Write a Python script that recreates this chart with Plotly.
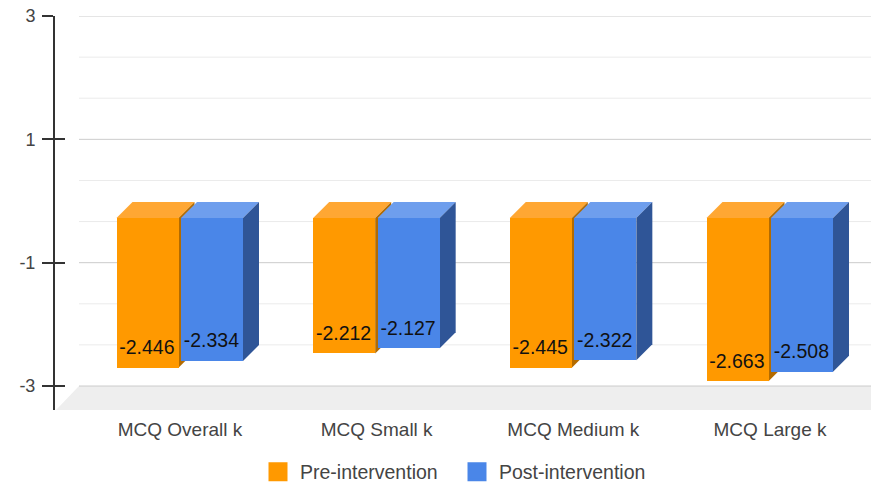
import plotly.graph_objects as go

categories = ["MCQ Overall k", "MCQ Small k", "MCQ Medium k", "MCQ Large k"]
pre_values = [-2.446, -2.212, -2.445, -2.663]
post_values = [-2.334, -2.127, -2.322, -2.508]
major_ticks = [3, 1, -1, -3]
minor_grid = [2.333, 1.667, 0.333, -0.333, -1.667, -2.333]
ORANGE, ORANGE_TOP, ORANGE_SIDE = "#ff9900", "#ffa733", "#b36b00"
BLUE, BLUE_TOP, BLUE_SIDE = "#4a86e8", "#6e9eed", "#2f5597"

W, H = 871, 482
L, R, T, B = 55, 871, 16, 410
PX_PER_CAT = 196.67
PX_PER_UNIT = 61.67
x0_px = 180
xr = [(L - x0_px) / PX_PER_CAT, (R - x0_px) / PX_PER_CAT]
yr = [3 - (B - T) / PX_PER_UNIT, 3]
DX = 16 / PX_PER_CAT
DY = 16 / PX_PER_UNIT
TOP = -1 / PX_PER_UNIT
BW = 62 / PX_PER_CAT
OFF_PRE = -32.5 / PX_PER_CAT
OFF_POST = 32 / PX_PER_CAT
xs = list(range(len(categories)))

shapes = []
def poly(pts, color, layer="below"):
    path = "M" + " L".join(f"{x},{y}" for x, y in pts) + " Z"
    shapes.append(dict(type="path", path=path, fillcolor=color, line=dict(width=0), layer=layer, xref="x", yref="y"))

# floor
fx = xr[0] + 1 / PX_PER_CAT
poly([(fx, yr[0]), (xr[0] + 24 / PX_PER_CAT, -3), (xr[1], -3), (xr[1], yr[0])], "#eeeeee")
# grid
gx = xr[0] + 24 / PX_PER_CAT
for v in minor_grid:
    shapes.append(dict(type="line", x0=gx, x1=xr[1], y0=v, y1=v, line=dict(color="#ebebeb", width=1), layer="below"))
for v in major_ticks:
    shapes.append(dict(type="line", x0=gx, x1=xr[1], y0=v, y1=v, line=dict(color="#cccccc", width=1), layer="below"))

def faces(vals, off, top, side):
    for i, v in enumerate(vals):
        xl = i + off - BW / 2
        xh = i + off + BW / 2
        poly([(xl, TOP - DY), (xl + DX, TOP), (xh + DX, TOP), (xh, TOP - DY)], top)
        poly([(xh, TOP - DY), (xh + DX, TOP), (xh + DX, v), (xh, v - DY)], side)

faces(pre_values, OFF_PRE, ORANGE_TOP, ORANGE_SIDE)
faces(post_values, OFF_POST, BLUE_TOP, BLUE_SIDE)

fig = go.Figure()
for vals, off, col, nm in [(pre_values, OFF_PRE, ORANGE, "Pre-intervention"), (post_values, OFF_POST, BLUE, "Post-intervention")]:
    fig.add_trace(go.Bar(x=[i + off for i in xs], y=[v - TOP for v in vals], base=[TOP - DY] * len(vals), width=BW,
                         marker=dict(color=col, line=dict(width=0)), name=nm, showlegend=False))
    fig.add_trace(go.Scatter(x=[None], y=[None], mode="markers", name=nm,
                             marker=dict(symbol="square", size=16, color=col, line=dict(color=col, width=3))))
    fig.add_trace(go.Scatter(x=[i + off - 0.003 for i in xs], y=[v + 0.04 for v in vals], mode="text",
                             text=[f"{v:.3f}" for v in vals], textposition="middle center",
                             textfont=dict(size=19.5, color="#111111", family="Liberation Sans"),
                             showlegend=False, hoverinfo="skip"))
fig.add_trace(go.Scatter(x=[None], y=[None], yaxis="y2", showlegend=False))

fig.update_layout(
    width=W, height=H, autosize=False, barmode="overlay", bargap=0,
    margin=dict(l=L, r=W - R, t=T, b=H - B),
    paper_bgcolor="white", plot_bgcolor="white",
    font=dict(family="Liberation Sans", size=18, color="#444444"),
    shapes=shapes,
    xaxis=dict(range=xr, tickmode="array", tickvals=xs, ticktext=categories, showgrid=False, zeroline=False,
               showline=False, ticks="", tickfont=dict(size=19, color="#444444"), fixedrange=True,
               ticklabelstandoff=6),
    yaxis=dict(range=yr, tickmode="array", tickvals=major_ticks, ticktext=["3", "1", "-1", "-3"], showgrid=False,
               zeroline=False, showline=True, linecolor="#333333", linewidth=2, ticks="outside", ticklen=11,
               tickcolor="#333333", tickwidth=2, tickfont=dict(size=18, color="#444444"), fixedrange=True,
               ticklabelstandoff=3),
    yaxis2=dict(range=yr, overlaying="y", side="left", tickmode="array", tickvals=major_ticks, showticklabels=False,
                showgrid=False, zeroline=False, ticks="inside", ticklen=10, tickcolor="#333333", tickwidth=2),
    legend=dict(orientation="h", x=256 / W, xanchor="left", xref="container", y=0.0205, yanchor="middle", yref="container",
                font=dict(size=19.5, color="#444444"), bgcolor="rgba(0,0,0,0)",
                itemwidth=34, entrywidth=150, entrywidthmode="pixels"),
)
fig.write_html("out.html", config=dict(displayModeBar=False),
               post_script="document.body.style.margin='0';document.documentElement.style.overflow='hidden';")
